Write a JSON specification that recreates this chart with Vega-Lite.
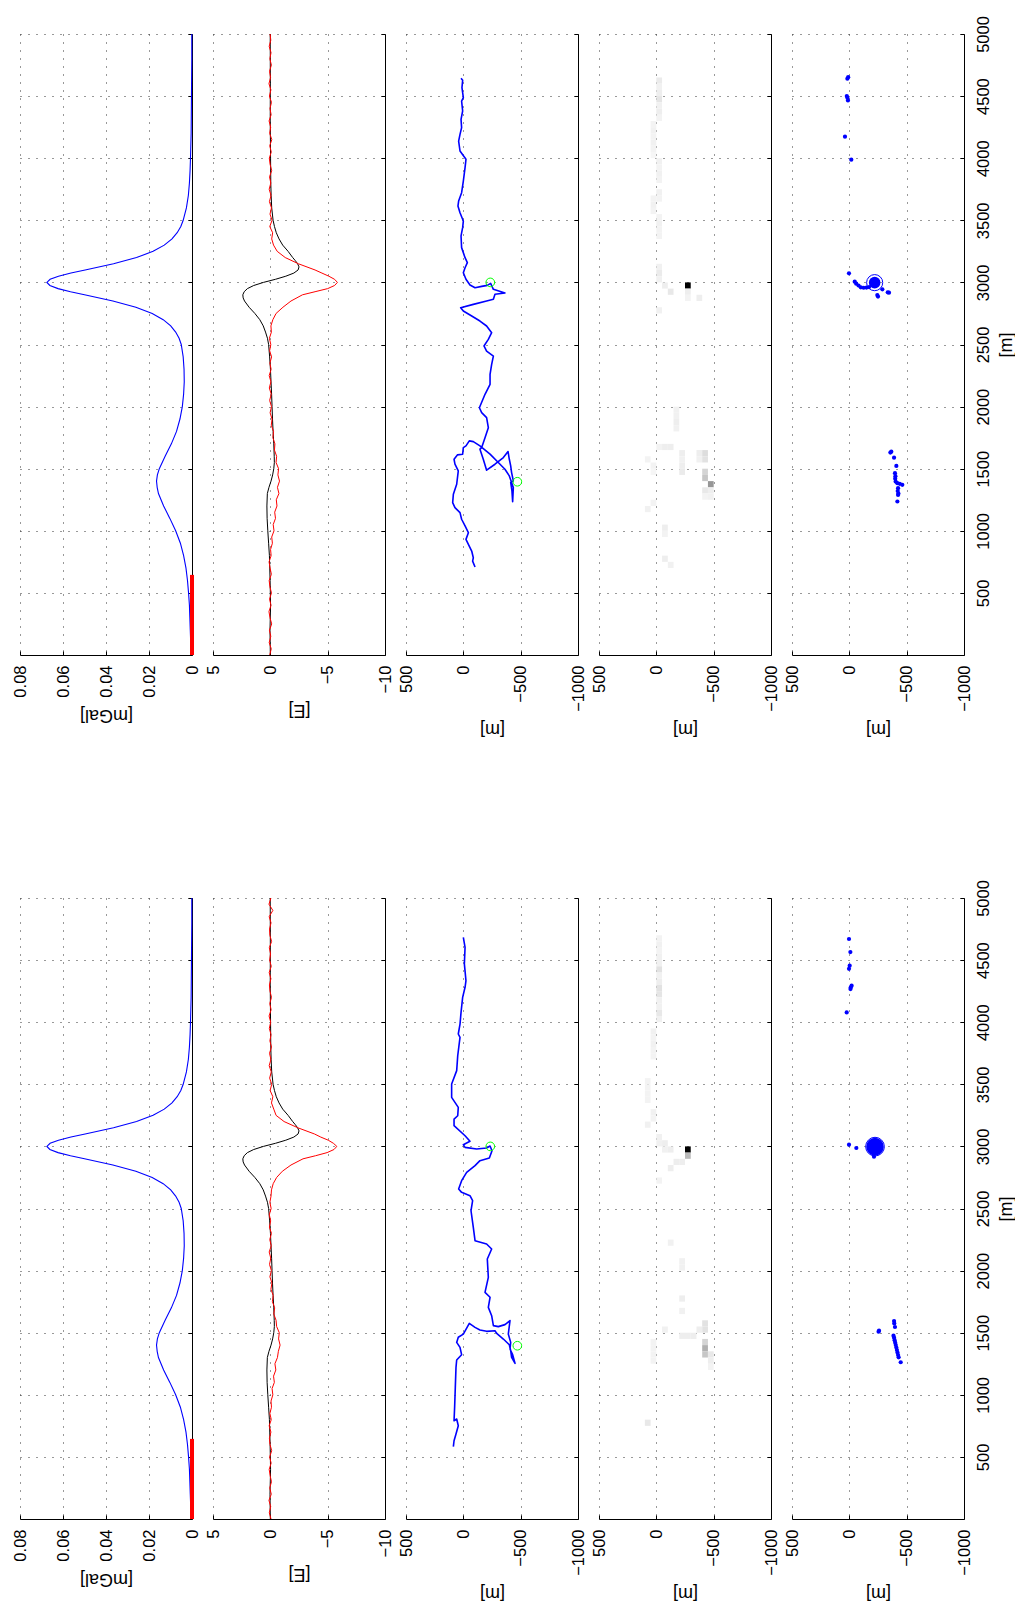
{
  "$schema": "https://vega.github.io/schema/vega-lite/v6.json",
  "background": "white",
  "padding": {"left": 12, "top": 15, "right": 0, "bottom": 6},
  "datasets": {
    "grav": [{"d":0,"v":0.0005},{"d":100,"v":0.0006},{"d":200,"v":0.0008},{"d":300,"v":0.001},{"d":400,"v":0.0012},{"d":500,"v":0.0016},{"d":600,"v":0.0021},{"d":700,"v":0.0028},{"d":800,"v":0.0039},{"d":900,"v":0.0054},{"d":1000,"v":0.0076},{"d":1100,"v":0.0103},{"d":1200,"v":0.0132},{"d":1300,"v":0.0156},{"d":1350,"v":0.0162},{"d":1400,"v":0.0165},{"d":1450,"v":0.0161},{"d":1500,"v":0.0152},{"d":1600,"v":0.0125},{"d":1700,"v":0.0096},{"d":1800,"v":0.0072},{"d":1900,"v":0.0056},{"d":2000,"v":0.0045},{"d":2100,"v":0.0039},{"d":2200,"v":0.0036},{"d":2300,"v":0.0037},{"d":2400,"v":0.0041},{"d":2500,"v":0.005},{"d":2550,"v":0.006},{"d":2600,"v":0.0076},{"d":2650,"v":0.0099},{"d":2700,"v":0.0134},{"d":2750,"v":0.0185},{"d":2800,"v":0.0261},{"d":2850,"v":0.0368},{"d":2900,"v":0.05},{"d":2925,"v":0.0565},{"d":2950,"v":0.0623},{"d":2975,"v":0.0661},{"d":3000,"v":0.0675},{"d":3025,"v":0.066},{"d":3050,"v":0.0621},{"d":3075,"v":0.0563},{"d":3100,"v":0.0497},{"d":3150,"v":0.0365},{"d":3200,"v":0.0258},{"d":3250,"v":0.0181},{"d":3300,"v":0.0129},{"d":3350,"v":0.0093},{"d":3400,"v":0.0069},{"d":3450,"v":0.0052},{"d":3500,"v":0.0041},{"d":3600,"v":0.0026},{"d":3700,"v":0.0017},{"d":3800,"v":0.0012},{"d":3900,"v":0.0009},{"d":4000,"v":0.0007},{"d":4200,"v":0.0004},{"d":4400,"v":0.0003},{"d":4600,"v":0.0002},{"d":4800,"v":0.0001},{"d":5000,"v":0.0001}],
    "bar": [{"d":0,"d2":645,"v":0}],
    "txz": [{"d":0,"v":0},{"d":200,"v":0.03},{"d":400,"v":-0.02},{"d":600,"v":0.02},{"d":700,"v":0.05},{"d":800,"v":0.08},{"d":900,"v":0.15},{"d":1000,"v":0.22},{"d":1100,"v":0.28},{"d":1200,"v":0.3},{"d":1300,"v":0.26},{"d":1350,"v":0.12},{"d":1400,"v":-0.06},{"d":1450,"v":-0.2},{"d":1500,"v":-0.3},{"d":1550,"v":-0.35},{"d":1600,"v":-0.34},{"d":1700,"v":-0.3},{"d":1800,"v":-0.24},{"d":1900,"v":-0.19},{"d":2000,"v":-0.15},{"d":2100,"v":-0.11},{"d":2200,"v":-0.06},{"d":2300,"v":-0.01},{"d":2400,"v":0.06},{"d":2500,"v":0.15},{"d":2550,"v":0.25},{"d":2600,"v":0.42},{"d":2650,"v":0.62},{"d":2700,"v":0.92},{"d":2750,"v":1.35},{"d":2800,"v":1.85},{"d":2850,"v":2.25},{"d":2875,"v":2.37},{"d":2900,"v":2.4},{"d":2925,"v":2.28},{"d":2950,"v":2.0},{"d":2975,"v":1.45},{"d":3000,"v":0.6},{"d":3025,"v":-0.45},{"d":3050,"v":-1.35},{"d":3075,"v":-2.05},{"d":3100,"v":-2.42},{"d":3125,"v":-2.5},{"d":3150,"v":-2.38},{"d":3175,"v":-2.18},{"d":3200,"v":-1.95},{"d":3250,"v":-1.55},{"d":3300,"v":-1.08},{"d":3350,"v":-0.76},{"d":3400,"v":-0.52},{"d":3450,"v":-0.36},{"d":3500,"v":-0.24},{"d":3600,"v":-0.12},{"d":3700,"v":-0.07},{"d":3800,"v":-0.04},{"d":4000,"v":-0.02},{"d":4300,"v":0.01},{"d":4600,"v":0},{"d":5000,"v":0.01}],
    "tzz_a": [{"d":0,"v":0.05},{"d":50,"v":-0.08},{"d":100,"v":0.1},{"d":150,"v":-0.04},{"d":200,"v":0.08},{"d":250,"v":-0.12},{"d":300,"v":0.03},{"d":350,"v":0.12},{"d":400,"v":-0.06},{"d":450,"v":0.07},{"d":500,"v":-0.1},{"d":550,"v":0.04},{"d":600,"v":0.1},{"d":650,"v":-0.09},{"d":700,"v":0.02},{"d":750,"v":0.11},{"d":800,"v":-0.07},{"d":850,"v":-0.02},{"d":900,"v":-0.18},{"d":950,"v":-0.12},{"d":1000,"v":-0.32},{"d":1050,"v":-0.25},{"d":1100,"v":-0.45},{"d":1150,"v":-0.38},{"d":1200,"v":-0.58},{"d":1250,"v":-0.52},{"d":1300,"v":-0.75},{"d":1350,"v":-0.62},{"d":1400,"v":-0.8},{"d":1450,"v":-0.66},{"d":1500,"v":-0.72},{"d":1550,"v":-0.5},{"d":1600,"v":-0.55},{"d":1650,"v":-0.36},{"d":1700,"v":-0.4},{"d":1750,"v":-0.22},{"d":1800,"v":-0.28},{"d":1850,"v":-0.08},{"d":1900,"v":-0.15},{"d":1950,"v":0.02},{"d":2000,"v":-0.1},{"d":2050,"v":0.06},{"d":2100,"v":-0.08},{"d":2150,"v":0.09},{"d":2200,"v":-0.05},{"d":2250,"v":0.1},{"d":2300,"v":-0.07},{"d":2350,"v":0.04},{"d":2400,"v":-0.11},{"d":2450,"v":0.06},{"d":2500,"v":-0.04},{"d":2550,"v":0.08},{"d":2600,"v":-0.09},{"d":2650,"v":-0.05},{"d":2700,"v":-0.22},{"d":2750,"v":-0.5},{"d":2800,"v":-1.1},{"d":2850,"v":-1.8},{"d":2900,"v":-2.8},{"d":2925,"v":-3.9},{"d":2950,"v":-5.0},{"d":2975,"v":-5.6},{"d":3000,"v":-5.85},{"d":3025,"v":-5.6},{"d":3050,"v":-5.1},{"d":3075,"v":-4.5},{"d":3100,"v":-3.9},{"d":3150,"v":-2.45},{"d":3200,"v":-1.3},{"d":3250,"v":-0.6},{"d":3300,"v":-0.28},{"d":3350,"v":-0.12},{"d":3400,"v":-0.2},{"d":3450,"v":0.05},{"d":3500,"v":-0.15},{"d":3550,"v":0.03},{"d":3600,"v":-0.1},{"d":3650,"v":0.08},{"d":3700,"v":-0.06},{"d":3750,"v":0.1},{"d":3800,"v":-0.04},{"d":3850,"v":0.07},{"d":3900,"v":-0.12},{"d":3950,"v":0.02},{"d":4000,"v":0.09},{"d":4050,"v":-0.08},{"d":4100,"v":0.05},{"d":4150,"v":-0.13},{"d":4200,"v":0.06},{"d":4250,"v":-0.03},{"d":4300,"v":0.11},{"d":4350,"v":-0.07},{"d":4400,"v":0.03},{"d":4450,"v":-0.1},{"d":4500,"v":0.08},{"d":4550,"v":-0.05},{"d":4600,"v":0.12},{"d":4650,"v":-0.02},{"d":4700,"v":0.07},{"d":4750,"v":-0.09},{"d":4800,"v":0.04},{"d":4850,"v":-0.06},{"d":4900,"v":0.1},{"d":4950,"v":-0.04},{"d":5000,"v":0.02}],
    "tzz_b": [{"d":0,"v":-0.06},{"d":50,"v":0.09},{"d":100,"v":-0.03},{"d":150,"v":0.12},{"d":200,"v":-0.08},{"d":250,"v":0.05},{"d":300,"v":-0.1},{"d":350,"v":0.02},{"d":400,"v":0.1},{"d":450,"v":-0.07},{"d":500,"v":0.06},{"d":550,"v":-0.12},{"d":600,"v":0.03},{"d":650,"v":0.08},{"d":700,"v":-0.05},{"d":750,"v":0.1},{"d":800,"v":-0.08},{"d":850,"v":0.04},{"d":900,"v":-0.1},{"d":950,"v":-0.06},{"d":1000,"v":-0.22},{"d":1050,"v":-0.15},{"d":1100,"v":-0.35},{"d":1150,"v":-0.28},{"d":1200,"v":-0.48},{"d":1250,"v":-0.4},{"d":1300,"v":-0.62},{"d":1350,"v":-0.7},{"d":1400,"v":-0.85},{"d":1450,"v":-0.72},{"d":1500,"v":-0.78},{"d":1550,"v":-0.55},{"d":1600,"v":-0.5},{"d":1650,"v":-0.3},{"d":1700,"v":-0.38},{"d":1750,"v":-0.18},{"d":1800,"v":-0.25},{"d":1850,"v":-0.05},{"d":1900,"v":-0.14},{"d":1950,"v":0.04},{"d":2000,"v":-0.09},{"d":2050,"v":0.07},{"d":2100,"v":-0.04},{"d":2150,"v":0.1},{"d":2200,"v":-0.08},{"d":2250,"v":0.05},{"d":2300,"v":-0.1},{"d":2350,"v":0.08},{"d":2400,"v":-0.03},{"d":2450,"v":0.09},{"d":2500,"v":-0.07},{"d":2550,"v":0.04},{"d":2600,"v":-0.06},{"d":2650,"v":-0.1},{"d":2700,"v":-0.25},{"d":2750,"v":-0.55},{"d":2800,"v":-1.05},{"d":2850,"v":-1.8},{"d":2900,"v":-2.85},{"d":2925,"v":-3.95},{"d":2950,"v":-4.95},{"d":2975,"v":-5.55},{"d":3000,"v":-5.8},{"d":3025,"v":-5.5},{"d":3050,"v":-5.05},{"d":3075,"v":-4.4},{"d":3100,"v":-3.85},{"d":3150,"v":-2.4},{"d":3200,"v":-1.2},{"d":3250,"v":-0.5},{"d":3300,"v":-0.3},{"d":3350,"v":-0.1},{"d":3400,"v":-0.22},{"d":3450,"v":0.02},{"d":3500,"v":-0.12},{"d":3550,"v":0.06},{"d":3600,"v":-0.08},{"d":3650,"v":0.1},{"d":3700,"v":-0.05},{"d":3750,"v":0.07},{"d":3800,"v":-0.1},{"d":3850,"v":0.04},{"d":3900,"v":-0.06},{"d":3950,"v":0.09},{"d":4000,"v":-0.03},{"d":4050,"v":0.11},{"d":4100,"v":-0.07},{"d":4150,"v":0.05},{"d":4200,"v":-0.1},{"d":4250,"v":0.03},{"d":4300,"v":0.08},{"d":4350,"v":-0.05},{"d":4400,"v":0.1},{"d":4450,"v":-0.08},{"d":4500,"v":0.06},{"d":4550,"v":-0.02},{"d":4600,"v":0.09},{"d":4650,"v":-0.11},{"d":4700,"v":0.04},{"d":4750,"v":0.07},{"d":4800,"v":-0.06},{"d":4850,"v":0.1},{"d":4900,"v":-0.22},{"d":4950,"v":0.12},{"d":5000,"v":-0.05}],
    "track_a": [{"i":1,"d":708,"v":-102},{"i":2,"d":756,"v":-81},{"i":3,"d":783,"v":-87},{"i":4,"d":837,"v":-73},{"i":5,"d":891,"v":-44},{"i":6,"d":931,"v":-23},{"i":7,"d":985,"v":-44},{"i":8,"d":1039,"v":-15},{"i":9,"d":1093,"v":15},{"i":10,"d":1146,"v":29},{"i":11,"d":1187,"v":73},{"i":12,"d":1227,"v":93},{"i":13,"d":1294,"v":87},{"i":14,"d":1375,"v":58},{"i":15,"d":1482,"v":44},{"i":16,"d":1536,"v":73},{"i":17,"d":1576,"v":81},{"i":18,"d":1611,"v":52},{"i":19,"d":1617,"v":6},{"i":20,"d":1670,"v":0},{"i":21,"d":1684,"v":-23},{"i":22,"d":1724,"v":-52},{"i":23,"d":1718,"v":-87},{"i":24,"d":1684,"v":-145},{"i":25,"d":1617,"v":-233},{"i":26,"d":1550,"v":-305},{"i":27,"d":1496,"v":-363},{"i":28,"d":1442,"v":-401},{"i":29,"d":1389,"v":-421},{"i":30,"d":1348,"v":-436},{"i":31,"d":1235,"v":-430},{"i":32,"d":1321,"v":-424},{"i":33,"d":1389,"v":-413},{"i":34,"d":1402,"v":-436},{"i":35,"d":1469,"v":-421},{"i":36,"d":1523,"v":-413},{"i":37,"d":1576,"v":-401},{"i":38,"d":1638,"v":-390},{"i":39,"d":1590,"v":-349},{"i":40,"d":1536,"v":-276},{"i":41,"d":1488,"v":-203},{"i":42,"d":1576,"v":-174},{"i":43,"d":1657,"v":-145},{"i":44,"d":1670,"v":-160},{"i":45,"d":1750,"v":-189},{"i":46,"d":1830,"v":-218},{"i":47,"d":1911,"v":-203},{"i":48,"d":1951,"v":-160},{"i":49,"d":1991,"v":-140},{"i":50,"d":2099,"v":-189},{"i":51,"d":2179,"v":-233},{"i":52,"d":2260,"v":-233},{"i":53,"d":2340,"v":-247},{"i":54,"d":2407,"v":-262},{"i":55,"d":2447,"v":-203},{"i":56,"d":2488,"v":-180},{"i":57,"d":2541,"v":-218},{"i":58,"d":2595,"v":-247},{"i":59,"d":2649,"v":-203},{"i":60,"d":2689,"v":-145},{"i":61,"d":2729,"v":-73},{"i":62,"d":2770,"v":0},{"i":63,"d":2796,"v":23},{"i":64,"d":2823,"v":-87},{"i":65,"d":2850,"v":-203},{"i":66,"d":2864,"v":-262},{"i":67,"d":2904,"v":-276},{"i":68,"d":2915,"v":-363},{"i":69,"d":2944,"v":-262},{"i":70,"d":2992,"v":-238},{"i":71,"d":2976,"v":-209},{"i":72,"d":2968,"v":-160},{"i":73,"d":2957,"v":-102},{"i":74,"d":2979,"v":-58},{"i":75,"d":3025,"v":-23},{"i":76,"d":3078,"v":0},{"i":77,"d":3118,"v":-15},{"i":78,"d":3159,"v":-35},{"i":79,"d":3199,"v":-15},{"i":80,"d":3280,"v":15},{"i":81,"d":3374,"v":20},{"i":82,"d":3441,"v":6},{"i":83,"d":3494,"v":0},{"i":84,"d":3561,"v":29},{"i":85,"d":3615,"v":47},{"i":86,"d":3655,"v":41},{"i":87,"d":3722,"v":15},{"i":88,"d":3816,"v":0},{"i":89,"d":3924,"v":-15},{"i":90,"d":3991,"v":-23},{"i":91,"d":4058,"v":29},{"i":92,"d":4138,"v":41},{"i":93,"d":4192,"v":29},{"i":94,"d":4246,"v":15},{"i":95,"d":4313,"v":20},{"i":96,"d":4380,"v":6},{"i":97,"d":4460,"v":15},{"i":98,"d":4487,"v":0},{"i":99,"d":4568,"v":12},{"i":100,"d":4627,"v":6},{"i":101,"d":4643,"v":20}],
    "track_b": [{"i":1,"d":582,"v":87},{"i":2,"d":630,"v":81},{"i":3,"d":684,"v":64},{"i":4,"d":751,"v":44},{"i":5,"d":805,"v":58},{"i":6,"d":791,"v":81},{"i":7,"d":899,"v":76},{"i":8,"d":1060,"v":70},{"i":9,"d":1221,"v":64},{"i":10,"d":1280,"v":58},{"i":11,"d":1323,"v":15},{"i":12,"d":1382,"v":29},{"i":13,"d":1422,"v":58},{"i":14,"d":1463,"v":44},{"i":15,"d":1489,"v":0},{"i":16,"d":1575,"v":-52},{"i":17,"d":1543,"v":-102},{"i":18,"d":1522,"v":-145},{"i":19,"d":1511,"v":-203},{"i":20,"d":1516,"v":-276},{"i":21,"d":1495,"v":-291},{"i":22,"d":1449,"v":-349},{"i":23,"d":1403,"v":-401},{"i":24,"d":1355,"v":-413},{"i":25,"d":1302,"v":-421},{"i":26,"d":1253,"v":-451},{"i":27,"d":1323,"v":-430},{"i":28,"d":1369,"v":-407},{"i":29,"d":1422,"v":-413},{"i":30,"d":1489,"v":-392},{"i":31,"d":1597,"v":-407},{"i":32,"d":1565,"v":-363},{"i":33,"d":1549,"v":-305},{"i":34,"d":1557,"v":-262},{"i":35,"d":1637,"v":-247},{"i":36,"d":1704,"v":-218},{"i":37,"d":1785,"v":-233},{"i":38,"d":1825,"v":-189},{"i":39,"d":1946,"v":-218},{"i":40,"d":2093,"v":-209},{"i":41,"d":2174,"v":-247},{"i":42,"d":2214,"v":-203},{"i":43,"d":2241,"v":-102},{"i":44,"d":2348,"v":-87},{"i":45,"d":2482,"v":-67},{"i":46,"d":2563,"v":-81},{"i":47,"d":2603,"v":-58},{"i":48,"d":2630,"v":15},{"i":49,"d":2657,"v":41},{"i":50,"d":2724,"v":15},{"i":51,"d":2791,"v":-29},{"i":52,"d":2845,"v":-102},{"i":53,"d":2885,"v":-145},{"i":54,"d":2906,"v":-227},{"i":55,"d":2965,"v":-250},{"i":56,"d":3003,"v":-233},{"i":57,"d":2987,"v":-203},{"i":58,"d":2979,"v":-116},{"i":59,"d":2992,"v":-15},{"i":60,"d":3014,"v":0},{"i":61,"d":3041,"v":-58},{"i":62,"d":3086,"v":-15},{"i":63,"d":3167,"v":81},{"i":64,"d":3220,"v":81},{"i":65,"d":3247,"v":49},{"i":66,"d":3314,"v":44},{"i":67,"d":3395,"v":102},{"i":68,"d":3502,"v":102},{"i":69,"d":3610,"v":58},{"i":70,"d":3730,"v":49},{"i":71,"d":3878,"v":29},{"i":72,"d":3905,"v":44},{"i":73,"d":3985,"v":29},{"i":74,"d":4079,"v":20},{"i":75,"d":4200,"v":6},{"i":76,"d":4281,"v":-15},{"i":77,"d":4334,"v":-23},{"i":78,"d":4469,"v":-9},{"i":79,"d":4603,"v":-15},{"i":80,"d":4683,"v":0}],
    "targets": [{"d":3000,"v":-235},{"d":1395,"v":-471}],
    "cells_a": [{"v":-50,"v2":0,"d":4600,"d2":4650,"p":0.07},{"v":-50,"v2":0,"d":4550,"d2":4600,"p":0.05},{"v":-50,"v2":0,"d":4500,"d2":4550,"p":0.06},{"v":-50,"v2":0,"d":4450,"d2":4500,"p":0.09},{"v":-50,"v2":0,"d":4400,"d2":4450,"p":0.05},{"v":-50,"v2":0,"d":4350,"d2":4400,"p":0.06},{"v":-50,"v2":0,"d":4300,"d2":4350,"p":0.04},{"v":0,"v2":50,"d":4250,"d2":4300,"p":0.04},{"v":0,"v2":50,"d":4200,"d2":4250,"p":0.05},{"v":0,"v2":50,"d":4150,"d2":4200,"p":0.04},{"v":0,"v2":50,"d":4100,"d2":4150,"p":0.05},{"v":0,"v2":50,"d":4050,"d2":4100,"p":0.04},{"v":0,"v2":50,"d":4000,"d2":4050,"p":0.03},{"v":-50,"v2":0,"d":3950,"d2":4000,"p":0.05},{"v":-50,"v2":0,"d":3900,"d2":3950,"p":0.04},{"v":-50,"v2":0,"d":3850,"d2":3900,"p":0.05},{"v":-50,"v2":0,"d":3800,"d2":3850,"p":0.04},{"v":-50,"v2":0,"d":3700,"d2":3750,"p":0.05},{"v":-50,"v2":0,"d":3650,"d2":3700,"p":0.04},{"v":0,"v2":50,"d":3650,"d2":3700,"p":0.04},{"v":0,"v2":50,"d":3600,"d2":3650,"p":0.05},{"v":0,"v2":50,"d":3550,"d2":3600,"p":0.04},{"v":-50,"v2":0,"d":3500,"d2":3550,"p":0.04},{"v":-50,"v2":0,"d":3450,"d2":3500,"p":0.05},{"v":-50,"v2":0,"d":3400,"d2":3450,"p":0.04},{"v":-50,"v2":0,"d":3350,"d2":3400,"p":0.04},{"v":-50,"v2":0,"d":3100,"d2":3150,"p":0.05},{"v":-50,"v2":0,"d":3050,"d2":3100,"p":0.07},{"v":-50,"v2":0,"d":3000,"d2":3050,"p":0.05},{"v":-100,"v2":-50,"d":2950,"d2":3000,"p":0.06},{"v":-300,"v2":-250,"d":2950,"d2":3000,"p":1},{"v":-150,"v2":-100,"d":2900,"d2":2950,"p":0.08},{"v":-300,"v2":-250,"d":2900,"d2":2950,"p":0.06},{"v":-300,"v2":-250,"d":2850,"d2":2900,"p":0.04},{"v":-400,"v2":-350,"d":2850,"d2":2900,"p":0.06},{"v":-50,"v2":0,"d":2750,"d2":2800,"p":0.05},{"v":-200,"v2":-150,"d":1950,"d2":2000,"p":0.05},{"v":-200,"v2":-150,"d":1900,"d2":1950,"p":0.05},{"v":-200,"v2":-150,"d":1850,"d2":1900,"p":0.06},{"v":-200,"v2":-150,"d":1800,"d2":1850,"p":0.05},{"v":-50,"v2":0,"d":1650,"d2":1700,"p":0.04},{"v":-100,"v2":-50,"d":1650,"d2":1700,"p":0.06},{"v":-150,"v2":-100,"d":1650,"d2":1700,"p":0.06},{"v":-250,"v2":-200,"d":1600,"d2":1650,"p":0.06},{"v":-250,"v2":-200,"d":1550,"d2":1600,"p":0.05},{"v":-250,"v2":-200,"d":1500,"d2":1550,"p":0.06},{"v":-250,"v2":-200,"d":1450,"d2":1500,"p":0.07},{"v":-400,"v2":-350,"d":1600,"d2":1650,"p":0.06},{"v":-400,"v2":-350,"d":1550,"d2":1600,"p":0.05},{"v":-450,"v2":-400,"d":1600,"d2":1650,"p":0.12},{"v":-450,"v2":-400,"d":1550,"d2":1600,"p":0.1},{"v":-450,"v2":-400,"d":1450,"d2":1500,"p":0.15},{"v":-450,"v2":-400,"d":1400,"d2":1450,"p":0.2},{"v":-500,"v2":-450,"d":1350,"d2":1400,"p":0.38},{"v":-450,"v2":-400,"d":1300,"d2":1350,"p":0.08},{"v":-500,"v2":-450,"d":1300,"d2":1350,"p":0.06},{"v":-500,"v2":-450,"d":1250,"d2":1300,"p":0.05},{"v":-450,"v2":-400,"d":1250,"d2":1300,"p":0.04},{"v":0,"v2":50,"d":1500,"d2":1550,"p":0.04},{"v":50,"v2":100,"d":1550,"d2":1600,"p":0.04},{"v":0,"v2":50,"d":1450,"d2":1500,"p":0.03},{"v":0,"v2":50,"d":1200,"d2":1250,"p":0.04},{"v":50,"v2":100,"d":1150,"d2":1200,"p":0.05},{"v":-100,"v2":-50,"d":1000,"d2":1050,"p":0.06},{"v":-100,"v2":-50,"d":950,"d2":1000,"p":0.04},{"v":-100,"v2":-50,"d":750,"d2":800,"p":0.06},{"v":-150,"v2":-100,"d":700,"d2":750,"p":0.05}],
    "cells_b": [{"v":-50,"v2":0,"d":4650,"d2":4700,"p":0.04},{"v":-50,"v2":0,"d":4600,"d2":4650,"p":0.05},{"v":-50,"v2":0,"d":4550,"d2":4600,"p":0.04},{"v":-50,"v2":0,"d":4500,"d2":4550,"p":0.05},{"v":-50,"v2":0,"d":4450,"d2":4500,"p":0.05},{"v":-50,"v2":0,"d":4400,"d2":4450,"p":0.1},{"v":-50,"v2":0,"d":4350,"d2":4400,"p":0.05},{"v":-50,"v2":0,"d":4300,"d2":4350,"p":0.06},{"v":-50,"v2":0,"d":4250,"d2":4300,"p":0.1},{"v":-50,"v2":0,"d":4200,"d2":4250,"p":0.09},{"v":-50,"v2":0,"d":4150,"d2":4200,"p":0.05},{"v":-50,"v2":0,"d":4100,"d2":4150,"p":0.05},{"v":-50,"v2":0,"d":4050,"d2":4100,"p":0.08},{"v":-50,"v2":0,"d":4000,"d2":4050,"p":0.05},{"v":0,"v2":50,"d":3900,"d2":3950,"p":0.05},{"v":0,"v2":50,"d":3850,"d2":3900,"p":0.04},{"v":0,"v2":50,"d":3800,"d2":3850,"p":0.05},{"v":0,"v2":50,"d":3750,"d2":3800,"p":0.04},{"v":0,"v2":50,"d":3700,"d2":3750,"p":0.04},{"v":50,"v2":100,"d":3500,"d2":3550,"p":0.04},{"v":50,"v2":100,"d":3450,"d2":3500,"p":0.04},{"v":50,"v2":100,"d":3400,"d2":3450,"p":0.04},{"v":50,"v2":100,"d":3350,"d2":3400,"p":0.04},{"v":0,"v2":50,"d":3250,"d2":3300,"p":0.05},{"v":0,"v2":50,"d":3200,"d2":3250,"p":0.04},{"v":50,"v2":100,"d":3150,"d2":3200,"p":0.05},{"v":-50,"v2":0,"d":3050,"d2":3100,"p":0.05},{"v":-50,"v2":0,"d":3000,"d2":3050,"p":0.05},{"v":-100,"v2":-50,"d":3000,"d2":3050,"p":0.06},{"v":-300,"v2":-250,"d":2950,"d2":3000,"p":1},{"v":-300,"v2":-250,"d":2900,"d2":2950,"p":0.25},{"v":-100,"v2":-50,"d":2950,"d2":3000,"p":0.05},{"v":-150,"v2":-100,"d":2950,"d2":3000,"p":0.06},{"v":-200,"v2":-150,"d":2850,"d2":2900,"p":0.06},{"v":-250,"v2":-200,"d":2850,"d2":2900,"p":0.06},{"v":-150,"v2":-100,"d":2800,"d2":2850,"p":0.06},{"v":-50,"v2":0,"d":2700,"d2":2750,"p":0.04},{"v":-150,"v2":-100,"d":2200,"d2":2250,"p":0.05},{"v":-250,"v2":-200,"d":2050,"d2":2100,"p":0.05},{"v":-250,"v2":-200,"d":2000,"d2":2050,"p":0.05},{"v":-250,"v2":-200,"d":1750,"d2":1800,"p":0.06},{"v":-250,"v2":-200,"d":1650,"d2":1700,"p":0.05},{"v":-450,"v2":-400,"d":1550,"d2":1600,"p":0.1},{"v":-450,"v2":-400,"d":1500,"d2":1550,"p":0.1},{"v":-400,"v2":-350,"d":1500,"d2":1550,"p":0.06},{"v":-350,"v2":-300,"d":1450,"d2":1500,"p":0.06},{"v":-300,"v2":-250,"d":1450,"d2":1500,"p":0.06},{"v":-250,"v2":-200,"d":1450,"d2":1500,"p":0.06},{"v":-100,"v2":-50,"d":1500,"d2":1550,"p":0.05},{"v":-450,"v2":-400,"d":1400,"d2":1450,"p":0.15},{"v":-450,"v2":-400,"d":1350,"d2":1400,"p":0.28},{"v":-450,"v2":-400,"d":1300,"d2":1350,"p":0.2},{"v":-500,"v2":-450,"d":1300,"d2":1350,"p":0.08},{"v":-500,"v2":-450,"d":1250,"d2":1300,"p":0.06},{"v":-500,"v2":-450,"d":1200,"d2":1250,"p":0.04},{"v":0,"v2":50,"d":1400,"d2":1450,"p":0.04},{"v":0,"v2":50,"d":1350,"d2":1400,"p":0.04},{"v":0,"v2":50,"d":1300,"d2":1350,"p":0.04},{"v":0,"v2":50,"d":1250,"d2":1300,"p":0.04},{"v":50,"v2":100,"d":750,"d2":800,"p":0.08}],
    "dots_a": [{"d":4640,"v":17,"w":2},{"d":4652,"v":10,"w":2},{"d":4500,"v":22,"w":2},{"d":4487,"v":17,"w":2},{"d":4465,"v":12,"w":2},{"d":4173,"v":38,"w":2},{"d":3988,"v":-17,"w":2},{"d":3073,"v":3,"w":2},{"d":3006,"v":-47,"w":2},{"d":2990,"v":-60,"w":2},{"d":2975,"v":-80,"w":2},{"d":2960,"v":-100,"w":2},{"d":2957,"v":-125,"w":2},{"d":2958,"v":-150,"w":2},{"d":2962,"v":-172,"w":2},{"d":2898,"v":-244,"w":2},{"d":2886,"v":-250,"w":2},{"d":2917,"v":-346,"w":2},{"d":2920,"v":-335,"w":2},{"d":2944,"v":-288,"w":2},{"d":1637,"v":-366,"w":2},{"d":1630,"v":-358,"w":2},{"d":1589,"v":-390,"w":2},{"d":1522,"v":-410,"w":2},{"d":1464,"v":-398,"w":2},{"d":1440,"v":-402,"w":2},{"d":1420,"v":-400,"w":2},{"d":1396,"v":-404,"w":2},{"d":1383,"v":-419,"w":2},{"d":1378,"v":-440,"w":2},{"d":1370,"v":-462,"w":2},{"d":1343,"v":-425,"w":2},{"d":1320,"v":-422,"w":2},{"d":1300,"v":-428,"w":2},{"d":1289,"v":-425,"w":2},{"d":1236,"v":-419,"w":2},{"d":2998,"v":-221,"w":15}],
    "dots_b": [{"d":4670,"v":3,"w":2},{"d":4565,"v":-9,"w":2},{"d":4455,"v":-3,"w":2},{"d":4430,"v":3,"w":2},{"d":4294,"v":-20,"w":2},{"d":4280,"v":-12,"w":2},{"d":4267,"v":-10,"w":2},{"d":4079,"v":23,"w":2},{"d":3014,"v":3,"w":2},{"d":2987,"v":-61,"w":2},{"d":2917,"v":-215,"w":2},{"d":1516,"v":-259,"w":2},{"d":1508,"v":-255,"w":2},{"d":1594,"v":-390,"w":2},{"d":1575,"v":-392,"w":2},{"d":1546,"v":-398,"w":2},{"d":1476,"v":-385,"w":2},{"d":1460,"v":-390,"w":2},{"d":1440,"v":-395,"w":2},{"d":1420,"v":-400,"w":2},{"d":1400,"v":-405,"w":2},{"d":1380,"v":-410,"w":2},{"d":1360,"v":-415,"w":2},{"d":1340,"v":-420,"w":2},{"d":1320,"v":-425,"w":2},{"d":1302,"v":-430,"w":2},{"d":1262,"v":-448,"w":2},{"d":2998,"v":-224,"w":35}]
  },
  "columns": 5,
  "spacing": {"row": 243, "column": 21},
  "bounds": "flush",
  "concat": [
    {"width":172,"height":621,
     "encoding":{"y":{"field":"d","type":"quantitative","scale":{"domain":[0,5000],"nice":false,"zero":false},"axis":{"orient":"right","values":[500,1000,1500,2000,2500,3000,3500,4000,4500,5000],"labels":false,"title":null}},
                 "x":{"field":"v","type":"quantitative","scale":{"domain":[0,0.08],"reverse":true,"nice":false,"zero":false},"axis":{"values":[0,0.02,0.04,0.06,0.08],"format":"~g","title":"[mGal]"}}},
     "layer":[
       {"data":{"name":"grav"},"mark":{"type":"line","color":"#0000ff","strokeWidth":1.1},"encoding":{"order":{"field":"d","type":"quantitative"}}},
       {"data":{"name":"bar"},"mark":{"type":"rule","color":"#ff0000","strokeWidth":4},"encoding":{"y2":{"field":"d2"}}}
     ]},
    {"width":172,"height":621,
     "encoding":{"y":{"field":"d","type":"quantitative","scale":{"domain":[0,5000],"nice":false,"zero":false},"axis":{"orient":"right","values":[500,1000,1500,2000,2500,3000,3500,4000,4500,5000],"labels":false,"title":null}},
                 "x":{"field":"v","type":"quantitative","scale":{"domain":[-10,5],"reverse":true,"nice":false,"zero":false},"axis":{"values":[-10,-5,0,5],"format":"d","title":"[E]"}}},
     "layer":[
       {"data":{"name":"txz"},"mark":{"type":"line","color":"#000000","strokeWidth":1},"encoding":{"order":{"field":"d","type":"quantitative"}}},
       {"data":{"name":"tzz_a"},"mark":{"type":"line","color":"#ff0000","strokeWidth":1},"encoding":{"order":{"field":"d","type":"quantitative"}}}
     ]},
    {"width":172,"height":621,
     "encoding":{"y":{"field":"d","type":"quantitative","scale":{"domain":[0,5000],"nice":false,"zero":false},"axis":{"orient":"right","values":[500,1000,1500,2000,2500,3000,3500,4000,4500,5000],"labels":false,"title":null}},
                 "x":{"field":"v","type":"quantitative","scale":{"domain":[-1000,500],"reverse":true,"nice":false,"zero":false},"axis":{"values":[-1000,-500,0,500],"format":"d","title":"[m]"}}},
     "layer":[
       {"data":{"name":"track_a"},"mark":{"type":"line","color":"#0000ff","strokeWidth":1.6,"strokeJoin":"round"},"encoding":{"order":{"field":"i","type":"quantitative"}}},
       {"data":{"name":"targets"},"mark":{"type":"point","shape":"circle","filled":false,"color":"#00ff00","opacity":1,"size":75,"strokeWidth":1}}
     ]},
    {"width":172,"height":621,
     "encoding":{"y":{"field":"d","type":"quantitative","scale":{"domain":[0,5000],"nice":false,"zero":false},"axis":{"orient":"right","values":[500,1000,1500,2000,2500,3000,3500,4000,4500,5000],"labels":false,"title":null}},
                 "x":{"field":"v","type":"quantitative","scale":{"domain":[-1000,500],"reverse":true,"nice":false,"zero":false},"axis":{"values":[-1000,-500,0,500],"format":"d","title":"[m]"}}},
     "layer":[
       {"data":{"name":"cells_a"},"mark":{"type":"rect"},"encoding":{"x2":{"field":"v2"},"y2":{"field":"d2"},"color":{"field":"p","type":"quantitative","scale":{"domain":[0,1],"range":["#ffffff","#000000"]},"legend":null}}}
     ]},
    {"width":172,"height":621,
     "encoding":{"y":{"field":"d","type":"quantitative","scale":{"domain":[0,5000],"nice":false,"zero":false},"axis":{"orient":"right","values":[500,1000,1500,2000,2500,3000,3500,4000,4500,5000],"labels":true,"format":"d","title":"[m]"}},
                 "x":{"field":"v","type":"quantitative","scale":{"domain":[-1000,500],"reverse":true,"nice":false,"zero":false},"axis":{"values":[-1000,-500,0,500],"format":"d","title":"[m]"}}},
     "layer":[
       {"data":{"name":"dots_a"},"mark":{"type":"circle","color":"#0000ff","opacity":1},"encoding":{"size":{"field":"w","type":"quantitative","scale":{"domain":[0,36],"range":[0,320]},"legend":null}}},
       {"data":{"name":"dots_a"},"transform":[{"filter":"datum.w > 5"}],"mark":{"type":"point","shape":"circle","filled":false,"color":"#0000ff","opacity":1,"strokeWidth":1},"encoding":{"size":{"field":"w","type":"quantitative","scale":{"domain":[15,35],"range":[260,350]},"legend":null}}}
     ],
     "resolve":{"scale":{"size":"independent"}}},
    {"width":172,"height":621,
     "encoding":{"y":{"field":"d","type":"quantitative","scale":{"domain":[0,5000],"nice":false,"zero":false},"axis":{"orient":"right","values":[500,1000,1500,2000,2500,3000,3500,4000,4500,5000],"labels":false,"title":null}},
                 "x":{"field":"v","type":"quantitative","scale":{"domain":[0,0.08],"reverse":true,"nice":false,"zero":false},"axis":{"values":[0,0.02,0.04,0.06,0.08],"format":"~g","title":"[mGal]"}}},
     "layer":[
       {"data":{"name":"grav"},"mark":{"type":"line","color":"#0000ff","strokeWidth":1.1},"encoding":{"order":{"field":"d","type":"quantitative"}}},
       {"data":{"name":"bar"},"mark":{"type":"rule","color":"#ff0000","strokeWidth":4},"encoding":{"y2":{"field":"d2"}}}
     ]},
    {"width":172,"height":621,
     "encoding":{"y":{"field":"d","type":"quantitative","scale":{"domain":[0,5000],"nice":false,"zero":false},"axis":{"orient":"right","values":[500,1000,1500,2000,2500,3000,3500,4000,4500,5000],"labels":false,"title":null}},
                 "x":{"field":"v","type":"quantitative","scale":{"domain":[-10,5],"reverse":true,"nice":false,"zero":false},"axis":{"values":[-10,-5,0,5],"format":"d","title":"[E]"}}},
     "layer":[
       {"data":{"name":"txz"},"mark":{"type":"line","color":"#000000","strokeWidth":1},"encoding":{"order":{"field":"d","type":"quantitative"}}},
       {"data":{"name":"tzz_b"},"mark":{"type":"line","color":"#ff0000","strokeWidth":1},"encoding":{"order":{"field":"d","type":"quantitative"}}}
     ]},
    {"width":172,"height":621,
     "encoding":{"y":{"field":"d","type":"quantitative","scale":{"domain":[0,5000],"nice":false,"zero":false},"axis":{"orient":"right","values":[500,1000,1500,2000,2500,3000,3500,4000,4500,5000],"labels":false,"title":null}},
                 "x":{"field":"v","type":"quantitative","scale":{"domain":[-1000,500],"reverse":true,"nice":false,"zero":false},"axis":{"values":[-1000,-500,0,500],"format":"d","title":"[m]"}}},
     "layer":[
       {"data":{"name":"track_b"},"mark":{"type":"line","color":"#0000ff","strokeWidth":1.6,"strokeJoin":"round"},"encoding":{"order":{"field":"i","type":"quantitative"}}},
       {"data":{"name":"targets"},"mark":{"type":"point","shape":"circle","filled":false,"color":"#00ff00","opacity":1,"size":75,"strokeWidth":1}}
     ]},
    {"width":172,"height":621,
     "encoding":{"y":{"field":"d","type":"quantitative","scale":{"domain":[0,5000],"nice":false,"zero":false},"axis":{"orient":"right","values":[500,1000,1500,2000,2500,3000,3500,4000,4500,5000],"labels":false,"title":null}},
                 "x":{"field":"v","type":"quantitative","scale":{"domain":[-1000,500],"reverse":true,"nice":false,"zero":false},"axis":{"values":[-1000,-500,0,500],"format":"d","title":"[m]"}}},
     "layer":[
       {"data":{"name":"cells_b"},"mark":{"type":"rect"},"encoding":{"x2":{"field":"v2"},"y2":{"field":"d2"},"color":{"field":"p","type":"quantitative","scale":{"domain":[0,1],"range":["#ffffff","#000000"]},"legend":null}}}
     ]},
    {"width":172,"height":621,
     "encoding":{"y":{"field":"d","type":"quantitative","scale":{"domain":[0,5000],"nice":false,"zero":false},"axis":{"orient":"right","values":[500,1000,1500,2000,2500,3000,3500,4000,4500,5000],"labels":true,"format":"d","title":"[m]"}},
                 "x":{"field":"v","type":"quantitative","scale":{"domain":[-1000,500],"reverse":true,"nice":false,"zero":false},"axis":{"values":[-1000,-500,0,500],"format":"d","title":"[m]"}}},
     "layer":[
       {"data":{"name":"dots_b"},"mark":{"type":"circle","color":"#0000ff","opacity":1},"encoding":{"size":{"field":"w","type":"quantitative","scale":{"domain":[0,36],"range":[0,320]},"legend":null}}},
       {"data":{"name":"dots_b"},"transform":[{"filter":"datum.w > 5"}],"mark":{"type":"point","shape":"circle","filled":false,"color":"#0000ff","opacity":1,"strokeWidth":1},"encoding":{"size":{"field":"w","type":"quantitative","scale":{"domain":[15,35],"range":[260,350]},"legend":null}}}
     ],
     "resolve":{"scale":{"size":"independent"}}}
  ],
  "config": {
    "view": {"stroke": null},
    "font": "Liberation Sans",
    "axis": {
      "grid": true, "gridColor": "#333333", "gridDash": [1, 7], "gridWidth": 1, "gridOpacity": 1,
      "domainColor": "#000000", "domainWidth": 1,
      "tickColor": "#000000", "tickSize": -4, "tickWidth": 1,
      "labelFont": "Liberation Sans", "labelFontSize": 16.5, "labelColor": "#000000",
      "labelFlush": false, "labelOverlap": false, "labelBound": false,
      "titleFont": "Liberation Sans", "titleFontSize": 18, "titleFontWeight": "normal", "titleColor": "#000000"
    },
    "axisX": {"labelAngle": 270, "labelAlign": "right", "labelBaseline": "middle", "labelPadding": 14, "titleAngle": 180, "titleAlign": "center", "titleBaseline": "bottom", "titlePadding": 8},
    "axisY": {"labelAngle": 270, "labelAlign": "center", "labelBaseline": "top", "labelPadding": 15, "titleAngle": 270, "titleAlign": "center", "titleBaseline": "top", "titlePadding": 6}
  }
}
